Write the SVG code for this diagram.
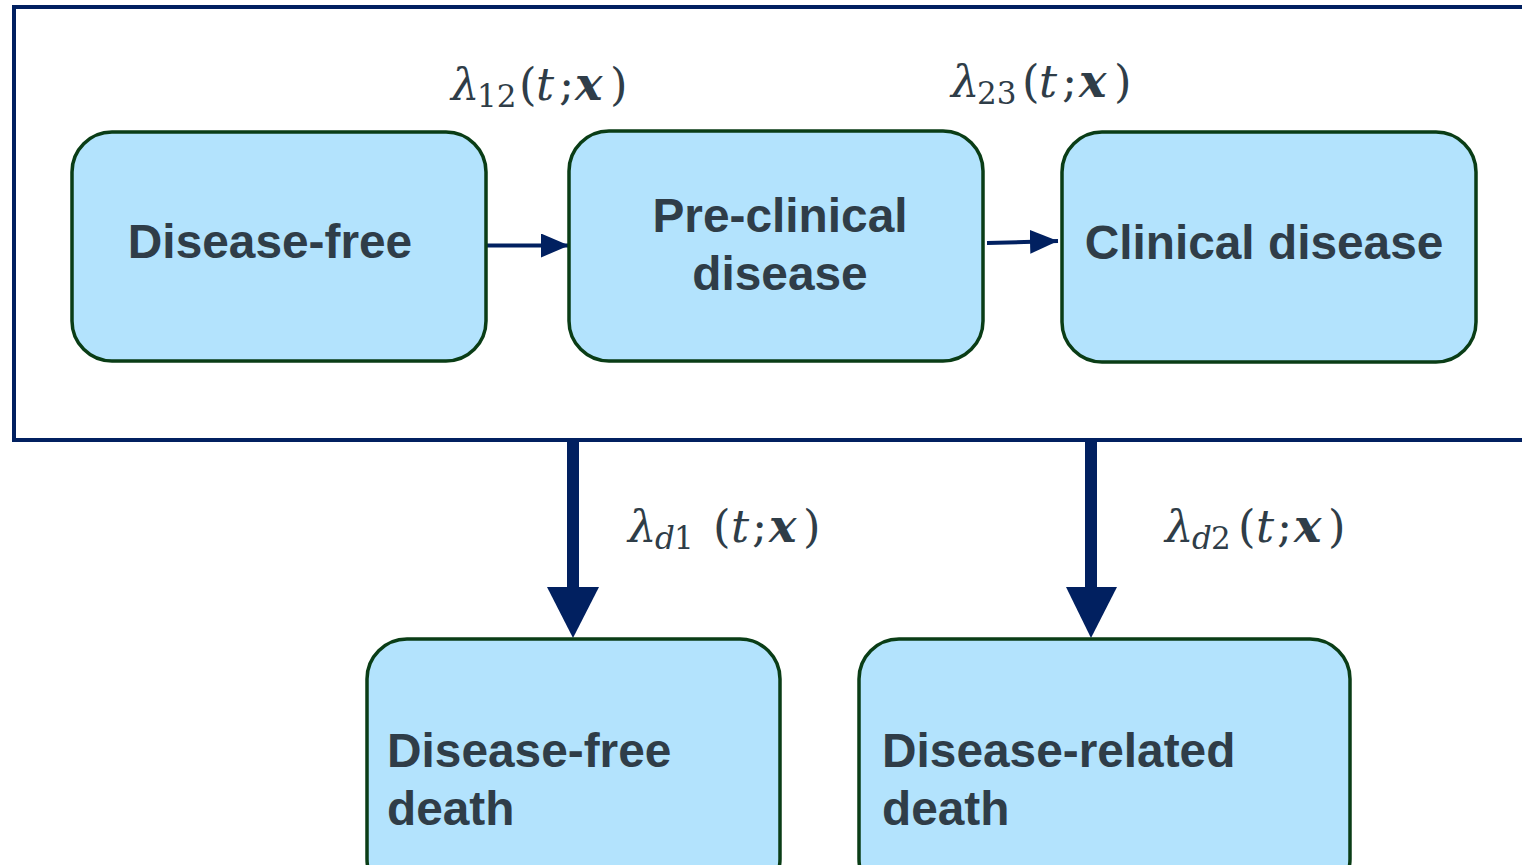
<svg xmlns="http://www.w3.org/2000/svg" width="1522" height="865" viewBox="0 0 1522 865">
  <style>
    .box { fill: #b3e3fd; stroke: #0a3d16; stroke-width: 3.5; }
    .lbl { font-family: "Liberation Sans", Arial, sans-serif; font-weight: bold; font-size: 47.8px; fill: #2f3d48; }
    .math { font-family: "DejaVu Serif", "Liberation Serif", serif; font-size: 45px; fill: #2f3d48; }
    .it { font-style: italic; }
    .sub { font-size: 31px; }
    .bx { font-style: italic; font-weight: bold; font-size: 46px; }
    .conn { stroke: #012060; fill: none; }
  </style>
  <defs>
    <marker id="headSmall" markerWidth="7" markerHeight="7" refX="7" refY="3" orient="auto" markerUnits="strokeWidth">
      <path d="M0,0 L7,3 L0,6 Z" fill="#012060"/>
    </marker>
  </defs>

  <rect width="1522" height="865" fill="#ffffff"/>

  <!-- enclosing frame for the living states (open on the right) -->
  <rect id="frame" x="14" y="7" width="1530" height="433" fill="none" stroke="#012060" stroke-width="4"/>

  <!-- connectors -->
  <g id="connectors">
    <line class="conn" x1="487" y1="245.5" x2="569" y2="245.5" stroke-width="4" marker-end="url(#headSmall)"/>
    <line class="conn" x1="987" y1="243" x2="1058" y2="241" stroke-width="4" marker-end="url(#headSmall)"/>
    <rect x="567" y="441" width="12" height="148" fill="#012060"/>
    <polygon points="547,587 599,587 573,638" fill="#012060"/>
    <rect x="1085" y="441" width="12" height="148" fill="#012060"/>
    <polygon points="1066,587 1117,587 1091,638" fill="#012060"/>
  </g>

  <!-- transition intensities -->
  <g id="rates">
    <text class="math" y="100"><tspan class="it" x="451">λ</tspan><tspan class="sub" x="477" dy="7">12</tspan><tspan x="519" dy="-7">(</tspan><tspan class="it" x="536">t</tspan><tspan x="559">;</tspan><tspan class="bx" x="575">x</tspan><tspan x="610">)</tspan></text>
    <text class="math" y="97"><tspan class="it" x="951">λ</tspan><tspan class="sub" x="977" dy="7">23</tspan><tspan x="1022" dy="-7">(</tspan><tspan class="it" x="1039">t</tspan><tspan x="1062">;</tspan><tspan class="bx" x="1079">x</tspan><tspan x="1114">)</tspan></text>
    <text class="math" y="542"><tspan class="it" x="628">λ</tspan><tspan class="sub it" x="655" dy="7">d</tspan><tspan class="sub" x="674">1</tspan><tspan x="713" dy="-7">(</tspan><tspan class="it" x="731">t</tspan><tspan x="752">;</tspan><tspan class="bx" x="769">x</tspan><tspan x="803">)</tspan></text>
    <text class="math" y="542"><tspan class="it" x="1165">λ</tspan><tspan class="sub it" x="1192" dy="7">d</tspan><tspan class="sub" x="1211">2</tspan><tspan x="1238" dy="-7">(</tspan><tspan class="it" x="1256">t</tspan><tspan x="1277">;</tspan><tspan class="bx" x="1294">x</tspan><tspan x="1328">)</tspan></text>
  </g>

  <g id="disease-free">
    <rect class="box" x="72" y="132" width="414" height="229" rx="40"/>
    <text class="lbl" x="270" y="258" text-anchor="middle">Disease-free</text>
  </g>
  <g id="pre-clinical">
    <rect class="box" x="569" y="131" width="414" height="230" rx="40"/>
    <text class="lbl" x="780" y="232" text-anchor="middle">Pre-clinical</text>
    <text class="lbl" x="780" y="290" text-anchor="middle">disease</text>
  </g>
  <g id="clinical">
    <rect class="box" x="1062" y="132" width="414" height="230" rx="40"/>
    <text class="lbl" x="1264" y="259" text-anchor="middle">Clinical disease</text>
  </g>
  <g id="disease-free-death">
    <rect class="box" x="367" y="639" width="413" height="260" rx="40"/>
    <text class="lbl" x="387" y="767">Disease-free</text>
    <text class="lbl" x="387" y="825">death</text>
  </g>
  <g id="disease-related-death">
    <rect class="box" x="859" y="639" width="491" height="260" rx="40"/>
    <text class="lbl" x="882" y="767">Disease-related</text>
    <text class="lbl" x="882" y="825">death</text>
  </g>
</svg>
